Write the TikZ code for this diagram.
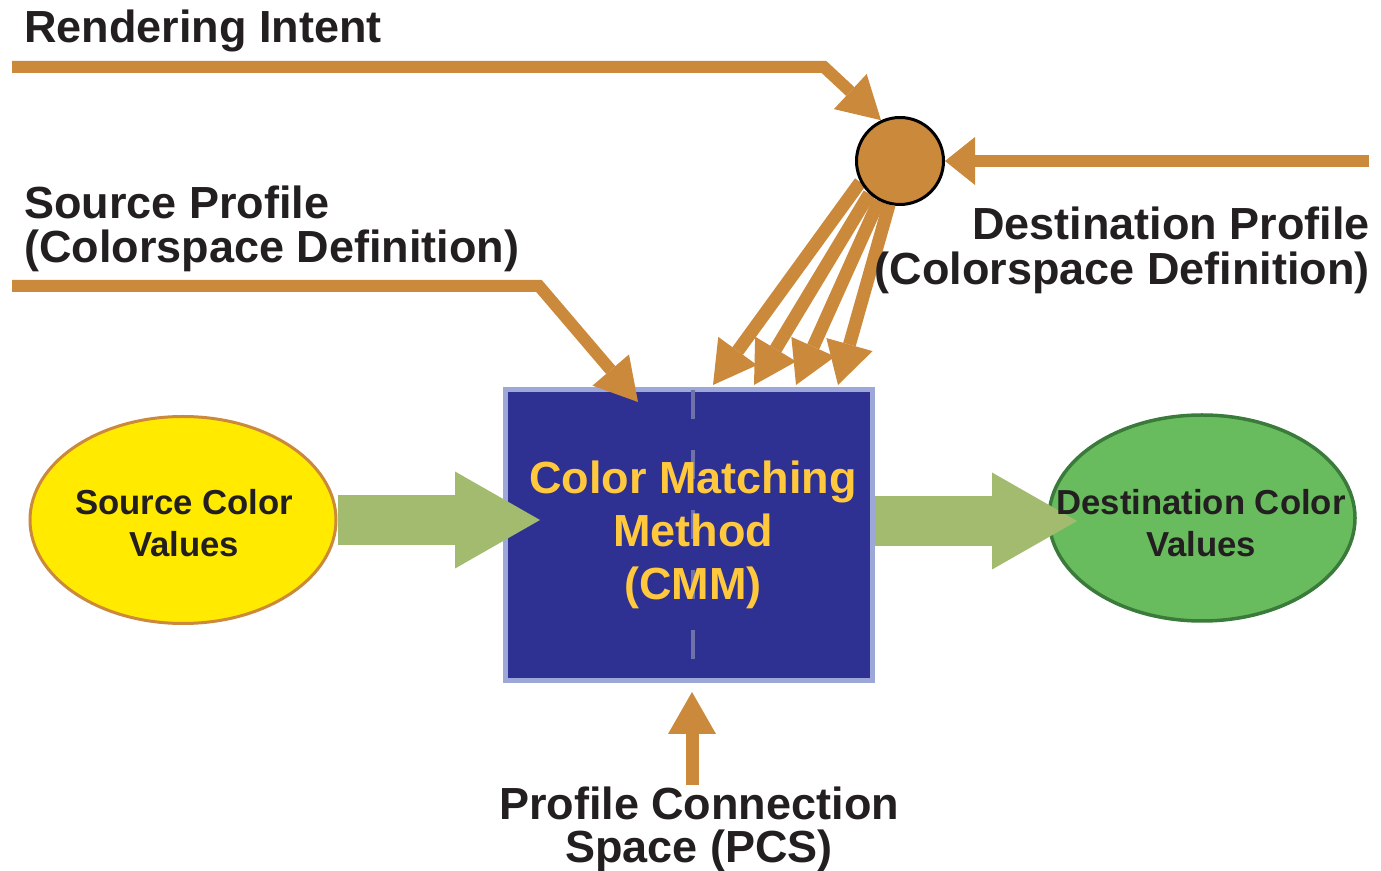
\documentclass[tikz,border=0pt]{standalone}
\usepackage{fontspec}
\setmainfont{Liberation Sans}
\usetikzlibrary{arrows.meta,shapes.geometric}
\definecolor{orng}{HTML}{CB893B}
\definecolor{ylw}{HTML}{FFEA00}
\definecolor{grnfill}{HTML}{69BC5E}
\definecolor{grnline}{HTML}{3A7A3A}
\definecolor{grnarrow}{HTML}{A3BB6F}
\definecolor{cmmblue}{HTML}{2E3192}
\definecolor{cmmborder}{HTML}{9EA8D8}
\definecolor{dashc}{HTML}{6E72A8}
\definecolor{cmmtext}{HTML}{FFC83D}
\definecolor{txt}{HTML}{231F20}
\pgfdeclarelayer{bg}
\pgfsetlayers{bg,main}
\begin{document}
\begin{tikzpicture}[x=1pt,y=1pt,
  flow/.style={draw=orng, line width=13pt, line join=miter, miter limit=10,
    -{Triangle[length=42pt,width=48pt,line width=0pt]}},
  bigflow/.style={draw=grnarrow, line width=50pt,
    -{Triangle[length=85pt,width=97pt,line width=0pt]}},
  lbl/.style={font=\fontsize{45}{44}\selectfont\bfseries, text=txt, inner sep=0pt},
  smalllbl/.style={font=\fontsize{34.7}{42}\selectfont\bfseries, text=txt, inner sep=0pt},
  cmmlbl/.style={font=\fontsize{45}{53}\selectfont\bfseries, text=cmmtext, inner sep=0pt},
  oval/.style={ellipse, inner sep=0pt}
]
\useasboundingbox (0,0) rectangle (1381,870);

% junction circle (on top)
\node[circle, draw=black, fill=orng, line width=3pt, minimum size=87pt, inner sep=0pt] (circ) at (900,709) {};

% named free ends
\coordinate (riS) at (12,803);
\coordinate (riB) at (824,803);
\coordinate (dpS) at (1369,709);
\coordinate (spS) at (12,584);
\coordinate (spB) at (539,584);
\coordinate (spT) at (638,468);
\coordinate (f1) at (713,485);
\coordinate (f2) at (754,485);
\coordinate (f3) at (796,485);
\coordinate (f4) at (838,485);
\coordinate (pcsS) at (692,85);
\coordinate (pcsT) at (692,178);
\coordinate (gL) at (540,350);
\coordinate (gRS) at (875,349);
\coordinate (gRT) at (1077,349);
\coordinate (dashTop) at (693,480);
\coordinate (dashBot) at (693,211);

\begin{pgfonlayer}{bg}
  \node[draw=cmmborder, fill=cmmblue, line width=5pt, minimum width=367pt, minimum height=291pt, inner sep=0pt] (cmm) at (689,335) {};
  \draw[dashc, line width=4pt, dash pattern=on 29pt off 31pt] (dashTop) -- (dashBot);
  \node[oval, draw=orng, fill=ylw, line width=3pt, minimum width=306pt, minimum height=207pt] (src) at (183,350) {};
  \node[oval, draw=grnline, fill=grnfill, line width=3.5pt, minimum width=306pt, minimum height=206pt] (dst) at (1202,352) {};
  \draw[bigflow] (src.east) -- (gL);
  \draw[bigflow] (gRS) -- (gRT);
  \draw[flow, line width=12pt] (riS) -- (riB) -- (circ.115);
  \draw[flow, line width=12pt, -{Triangle[length=30pt,width=48pt,line width=0pt]}] (dpS) -- (circ.east);
  \draw[flow, line width=12pt] (spS) -- (spB) -- (spT);
  \draw[flow] (circ.208) -- (f1);
  \draw[flow] (circ.227) -- (f2);
  \draw[flow] (circ.242) -- (f3);
  \draw[flow] (circ.256) -- (f4);
  \draw[flow] (pcsS) -- (pcsT);
\end{pgfonlayer}

% texts (base anchor = baseline of last line)
\node[lbl, anchor=base west] (riT) at (24,827) {Rendering Intent};
\node[lbl, anchor=base west, align=left] (spTx) at (24,607) {Source Profile\\(Colorspace Definition)};
\node[lbl, font=\fontsize{45}{45}\selectfont\bfseries, anchor=base east, align=right] (dpTx) at (1370,585) {Destination Profile\\(Colorspace Definition)};
\node[cmmlbl, anchor=base, align=center] (cmmTx) at (693,270) {Color Matching\\Method\\(CMM)};
\node[lbl, font=\fontsize{45}{43}\selectfont\bfseries, anchor=base, align=center] (pcsTx) at (699,8) {Profile Connection\\Space (PCS)};
\node[smalllbl, anchor=base, align=center] (srcTx) at (184,313) {Source Color\\Values};
\node[smalllbl, anchor=base, align=center] (dstTx) at (1201,313) {Destination Color\\Values};
\end{tikzpicture}
\end{document}
